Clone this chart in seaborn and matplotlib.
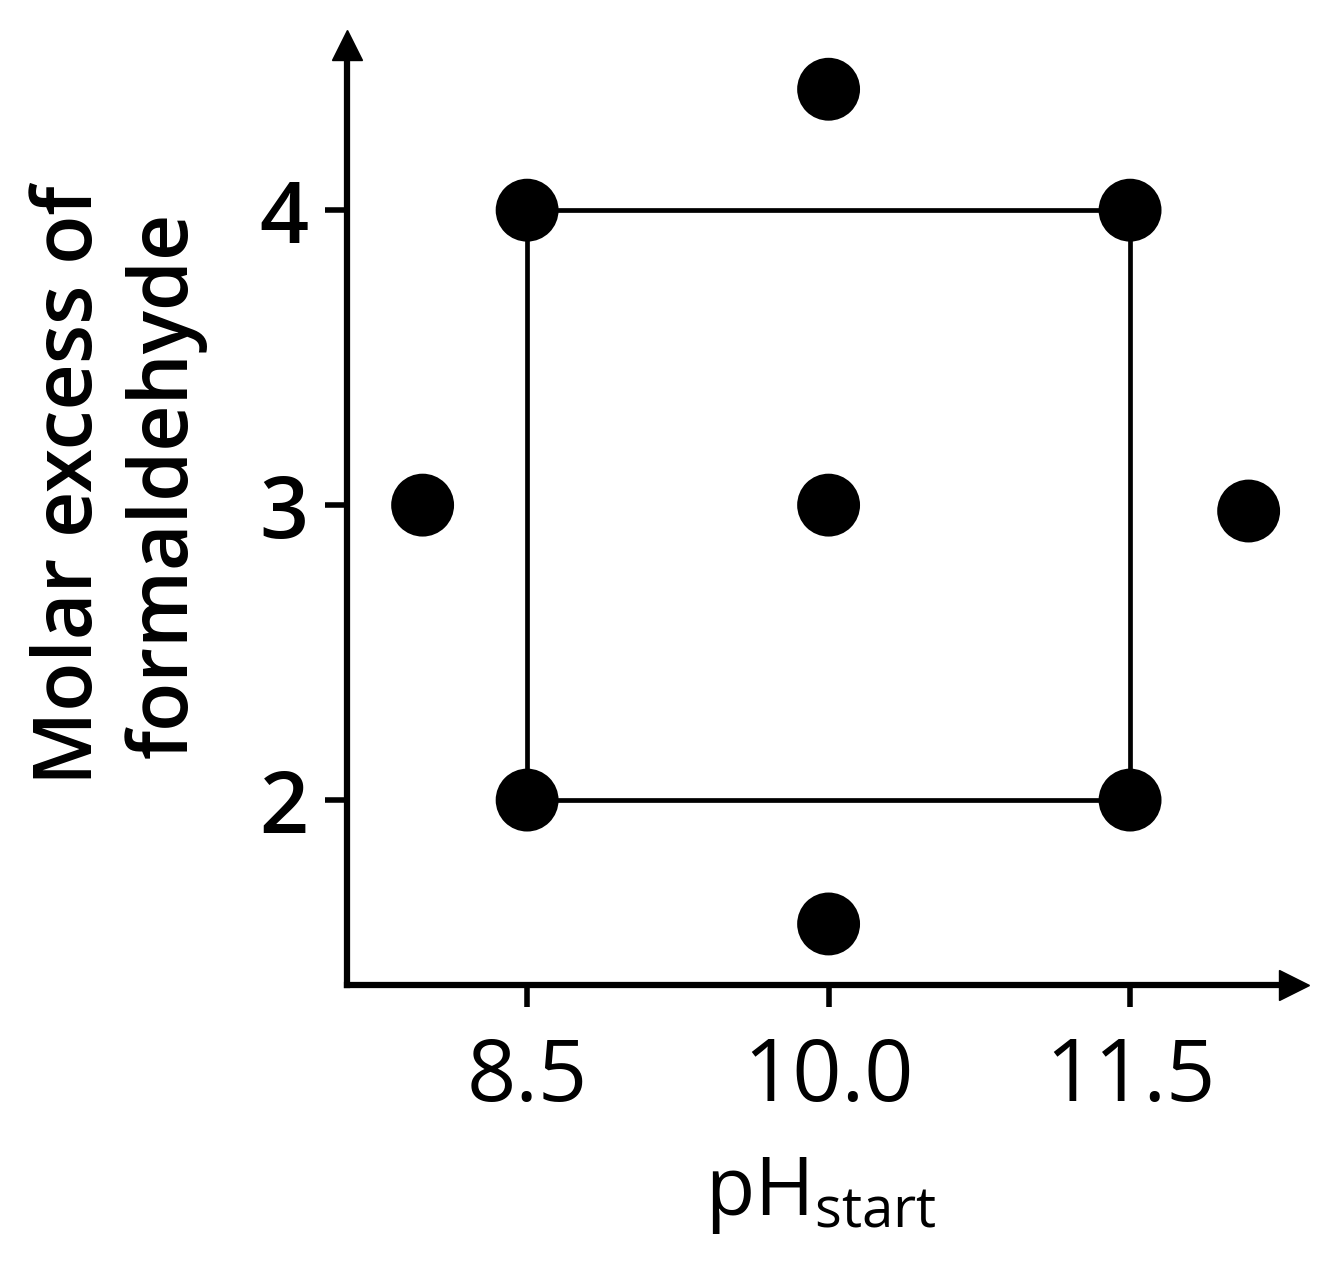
"""
Central composite design: pH at start vs. molar excess of formaldehyde.
"""

import matplotlib

matplotlib.use("Agg")
import matplotlib.pyplot as plt
import pandas as pd
import seaborn as sns


# design points
PH_START = [8.5, 8.5, 11.5, 11.5, 10.0, 7.98, 12.09, 10.0, 10.0]
MOLAR_EXCESS = [2.0, 4.0, 2.0, 4.0, 3.0, 3.0, 2.98, 4.41, 1.58]

# factorial square (corners joined in order)
SQUARE_PH = [8.5, 11.5, 11.5, 8.5, 8.5]
SQUARE_EXCESS = [4.0, 4.0, 2.0, 2.0, 4.0]

X_TICKS = [8.5, 10.0, 11.5]
X_TICK_LABELS = ["8.5", "10.0", "11.5"]
Y_TICKS = [2, 3, 4]
Y_TICK_LABELS = ["2", "3", "4"]


def main():
    sns.set_theme(style="white")
    plt.rcParams["font.family"] = ["Open Sans", "DejaVu Sans"]
    plt.rcParams["mathtext.fontset"] = "custom"
    plt.rcParams["mathtext.rm"] = "Open Sans"
    plt.rcParams["mathtext.it"] = "Open Sans"
    plt.rcParams["text.color"] = "black"
    plt.rcParams["axes.labelcolor"] = "black"

    points = pd.DataFrame({"ph": PH_START, "excess": MOLAR_EXCESS})
    square = pd.DataFrame({"ph": SQUARE_PH, "excess": SQUARE_EXCESS})

    fig = plt.figure(figsize=(13.41, 12.71), dpi=100)
    ax = fig.add_axes([0.2588, 0.2250, 0.7062, 0.7396])

    sns.lineplot(data=square, x="ph", y="excess", sort=False, estimator=None,
                 color="black", linewidth=3.4, ax=ax, zorder=2)
    sns.scatterplot(data=points, x="ph", y="excess", color="black", s=2050,
                    edgecolor="none", ax=ax, zorder=3, clip_on=False)

    ax.set_xlim(7.604, 12.316)
    ax.set_ylim(1.373, 4.56)

    for side in ["top", "right"]:
        ax.spines[side].set_visible(False)
    for side in ["left", "bottom"]:
        ax.spines[side].set_linewidth(4.5)
        ax.spines[side].set_color("black")

    # arrow heads at the ends of the axes
    ax.plot(1, 0, ">", color="black", markersize=22, transform=ax.transAxes,
            clip_on=False, zorder=5)
    ax.plot(0, 1, "^", color="black", markersize=22, transform=ax.transAxes,
            clip_on=False, zorder=5)

    ax.set_xticks(X_TICKS)
    ax.set_xticklabels(X_TICK_LABELS, fontsize=62)
    ax.set_yticks(Y_TICKS)
    ax.set_yticklabels(Y_TICK_LABELS, fontsize=62, fontweight="semibold")
    ax.tick_params(axis="both", direction="out", length=16, width=4,
                   color="black", labelcolor="black", bottom=True, left=True)
    ax.tick_params(axis="x", pad=20)
    ax.tick_params(axis="y", pad=12)

    ax.set_xlabel(r"pH$_{\mathregular{start}}$", fontsize=58, labelpad=24)
    ax.set_ylabel("Molar excess of\nformaldehyde", fontsize=58,
                  fontweight="semibold")
    ax.yaxis.set_label_coords(-0.148, 0.532)
    ax.grid(False)

    fig.savefig("out.png", dpi=100)
    plt.close(fig)


if __name__ == "__main__":
    main()
